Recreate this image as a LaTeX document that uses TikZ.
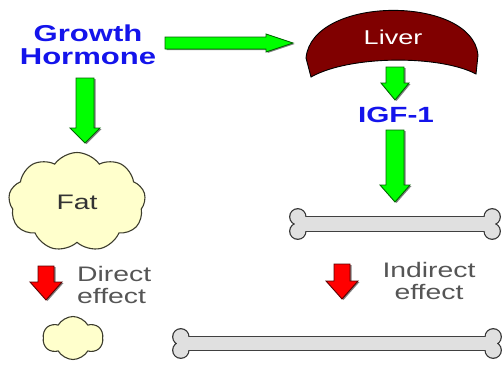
\documentclass[tikz,border=0pt]{standalone}
\usepackage{fontspec}
\usetikzlibrary{calc,shapes.symbols}
\newfontfamily\labelfont[FakeStretch=1.35]{Liberation Sans}
\definecolor{ghblue}{RGB}{20,20,235}
\definecolor{arrowgreen}{RGB}{0,255,0}
\definecolor{arrowedge}{RGB}{0,100,0}
\definecolor{arrowred}{RGB}{255,0,0}
\definecolor{arrowdark}{RGB}{90,0,0}
\definecolor{liverred}{RGB}{128,0,0}
\definecolor{fatfill}{RGB}{255,255,204}
\definecolor{fatline}{RGB}{60,60,45}
\definecolor{bonefill}{RGB}{224,224,224}
\definecolor{effectgray}{RGB}{85,85,85}
\tikzset{
  fat/.style n args={3}{to path={
     ($(\tikztostart)!#1!90:(\tikztotarget)$) --
     ($(\tikztotarget)!#3!(\tikztostart)!#1!-90:(\tikztostart)$) --
     ($(\tikztotarget)!#3!(\tikztostart)!#2!-90:(\tikztostart)$) --
     (\tikztotarget) --
     ($(\tikztotarget)!#3!(\tikztostart)!#2!90:(\tikztostart)$) --
     ($(\tikztotarget)!#3!(\tikztostart)!#1!90:(\tikztostart)$) --
     ($(\tikztostart)!#1!-90:(\tikztotarget)$) -- cycle}},
  greenarrow/.style={fill=arrowgreen, draw=arrowedge, line width=0.9pt, line join=miter,
     preaction={fill=black!50, transform canvas={shift={(1.5pt,-1pt)}}}},
  redarrow/.style={fill=arrowred, draw=arrowdark, line width=0.9pt,
     preaction={fill=black!50, transform canvas={shift={(1.5pt,-1pt)}}}},
  hormone/.style={font={\labelfont\bfseries\fontsize{23}{23}\selectfont}, text=ghblue, align=center, inner sep=0pt},
  effect/.style={font={\labelfont\fontsize{21}{22}\selectfont}, text=effectgray, inner sep=0pt},
  fatcell/.style={cloud, fill=fatfill, draw=fatline, line width=1.1pt, inner sep=0pt},
  boneshaft/.style={inner sep=0pt, minimum height=#1},
  knobline/.style={draw=black!80, line width=2.4pt},
  bonebody/.style={fill=bonefill, draw=black!75, line width=1.2pt}
}

\begin{document}
\begin{tikzpicture}[x=1pt,y=-1pt]
  \useasboundingbox (0,0) rectangle (502,364);

  \node[hormone] (gh) at (88,45) {Growth\\Hormone};

  \draw[fill=liverred, draw=black, line width=0.9pt]
    (311,77) -- (306,58) .. controls (312,-5) and (472,-5) ..
    (478,55) -- (476,74) .. controls (440,55) and (350,55) .. (311,77) -- cycle;
  \node[font={\labelfont\fontsize{20}{20}\selectfont}, text=white, inner sep=0pt] (liver) at (393,37) {Liver};

  \node[hormone, font={\labelfont\bfseries\fontsize{22}{22}\selectfont}] (igf) at (396,115) {IGF-1};

  \node[fatcell, cloud puffs=9, cloud puff arc=110, aspect=1.4,
        minimum width=137pt, minimum height=99pt,
        font={\labelfont\fontsize{21}{21}\selectfont}, text=black!80] (fat) at (77,202) {Fat};
  \node[fatcell, cloud puffs=6, cloud puff arc=120, aspect=1.4,
        minimum width=60pt, minimum height=43pt] (lipo) at (73,338) {};

  \node[effect, anchor=west, align=left] (direct) at (77,284.5) {Direct\\effect};
  \node[effect, align=center] (indirect) at (429,281) {Indirect\\effect};

  \node[boneshaft=14pt, minimum width=194pt] (bone1) at (395,224) {};
  \draw[knobline] (bone1.north west) circle (7.5) (bone1.south west) circle (7.5)
                  (bone1.north east) circle (7.5) (bone1.south east) circle (7.5);
  \draw[bonebody] (bone1.south west) rectangle (bone1.north east);
  \fill[bonefill] (bone1.north west) circle (7.5) (bone1.south west) circle (7.5)
                  (bone1.north east) circle (7.5) (bone1.south east) circle (7.5);

  \node[boneshaft=13pt, minimum width=312pt] (bone2) at (337,343.5) {};
  \draw[knobline] (bone2.north west) circle (7.5) (bone2.south west) circle (7.5)
                  (bone2.north east) circle (7.5) (bone2.south east) circle (7.5);
  \draw[bonebody] (bone2.south west) rectangle (bone2.north east);
  \fill[bonefill] (bone2.north west) circle (7.5) (bone2.south west) circle (7.5)
                  (bone2.north east) circle (7.5) (bone2.south east) circle (7.5);

  \draw[greenarrow, fat={6pt}{9pt}{27pt}] ($(gh)+(77,-2)$) to ($(liver)+(-100,6)$);
  \draw[greenarrow, fat={9pt}{15pt}{15pt}] ($(gh)+(-3,33)$) to ($(fat)+(8,-59)$);
  \draw[greenarrow, fat={9pt}{14pt}{17pt}] ($(liver)+(2,30)$) to ($(igf)+(-1,-15)$);
  \draw[greenarrow, fat={9pt}{15pt}{17pt}] ($(igf)+(-1,15)$) to ($(bone1)+(0,-22)$);
  \draw[redarrow, fat={8pt}{16pt}{18pt}] ($(fat)+(-31,64)$) to ($(lipo)+(-27,-38)$);
  \draw[redarrow, fat={8pt}{16pt}{18pt}] ($(bone1)+(-53,40)$) to ($(bone2)+(5,-44.5)$);
\end{tikzpicture}
\end{document}
